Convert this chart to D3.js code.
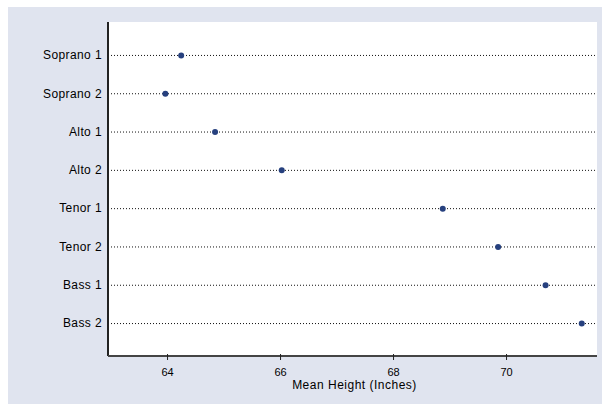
<!DOCTYPE html>
<html>
<head>
<meta charset="utf-8">
<script src="https://cdn.jsdelivr.net/npm/d3@7/dist/d3.min.js"></script>
<style>
  html, body { margin: 0; padding: 0; background: #ffffff; }
  svg { display: block; }
</style>
</head>
<body>
<svg id="chart" width="602" height="404"></svg>
<script>
// Voice parts and mean singer height (inches)
const voiceParts = ["Soprano 1", "Soprano 2", "Alto 1", "Alto 2", "Tenor 1", "Tenor 2", "Bass 1", "Bass 2"];
const meanHeights = [64.25, 63.97, 64.85, 66.03, 68.88, 69.86, 70.7, 71.34];
const xTicks = [64, 66, 68, 70];
const xTitle = "Mean Height (Inches)";

const svg = d3.select("#chart");
const W = 602, H = 404;
const plot = { left: 108, right: 597, top: 22, bottom: 356 };

// Panel background
svg.append("rect")
  .attr("x", 8).attr("y", 7)
  .attr("width", W - 8).attr("height", H - 7)
  .attr("fill", "#e0e4ef");

svg.append("rect")
  .attr("x", plot.left).attr("y", plot.top)
  .attr("width", plot.right - plot.left).attr("height", plot.bottom - plot.top)
  .attr("fill", "#ffffff");

const x = d3.scaleLinear()
  .domain([62.955, 71.61])
  .range([plot.left, plot.right]);

const y = d3.scalePoint()
  .domain(voiceParts)
  .range([plot.top, plot.bottom])
  .padding(0.86);

// Dotted guide lines for each voice part
svg.append("g")
  .selectAll("line")
  .data(voiceParts)
  .join("line")
  .attr("x1", plot.left + 3)
  .attr("x2", plot.right)
  .attr("y1", d => y(d) + 0.5)
  .attr("y2", d => y(d) + 0.5)
  .attr("stroke", "#111")
  .attr("stroke-width", 1)
  .attr("stroke-dasharray", "1,2");

// Points
svg.append("g")
  .selectAll("circle")
  .data(voiceParts.map((p, i) => ({ part: p, value: meanHeights[i] })))
  .join("circle")
  .attr("cx", d => x(d.value))
  .attr("cy", d => y(d.part) + 0.5)
  .attr("r", 3)
  .attr("fill", "#26407e");

// Left axis with category labels
const yAxis = svg.append("g")
  .attr("transform", `translate(${plot.left},0)`)
  .call(d3.axisLeft(y).tickSize(0).tickPadding(6));
yAxis.select(".domain")
  .attr("d", `M0,${plot.top}V${plot.bottom}`)
  .attr("stroke", "#222").attr("stroke-width", 2);
yAxis.selectAll("text")
  .attr("font-family", "Liberation Sans, Arial, sans-serif")
  .attr("font-size", 12)
  .attr("letter-spacing", 0.4)
  .attr("fill", "#000");

// Bottom axis
const xAxis = svg.append("g")
  .attr("transform", `translate(0,${plot.bottom})`)
  .call(d3.axisBottom(x).tickValues(xTicks).tickSize(4).tickPadding(8));
xAxis.select(".domain")
  .attr("d", `M${plot.left},0H${plot.right}`)
  .attr("stroke", "#444").attr("stroke-width", 2);
xAxis.selectAll(".tick line").attr("stroke", "#222").attr("y1", -2);
xAxis.selectAll("text")
  .attr("font-family", "Liberation Sans, Arial, sans-serif")
  .attr("font-size", 11)
  .attr("fill", "#000");

// Axis title
svg.append("text")
  .attr("x", (plot.left + plot.right) / 2 + 2)
  .attr("y", 389)
  .attr("text-anchor", "middle")
  .attr("font-family", "Liberation Sans, Arial, sans-serif")
  .attr("font-size", 12)
  .attr("letter-spacing", 0.5)
  .attr("fill", "#000")
  .text(xTitle);
</script>
</body>
</html>
